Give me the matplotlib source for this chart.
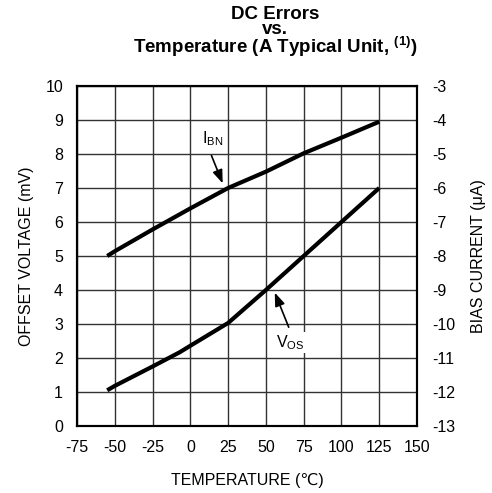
import matplotlib
matplotlib.use("Agg")
import matplotlib.pyplot as plt

plt.rcParams['font.family'] = ['Liberation Sans', 'DejaVu Sans']
plt.rcParams['mathtext.fontset'] = 'custom'
plt.rcParams['mathtext.rm'] = 'Liberation Sans'
plt.rcParams['mathtext.bf'] = 'Liberation Sans:bold'
plt.rcParams['mathtext.it'] = 'Liberation Sans:italic'
plt.rcParams['axes.unicode_minus'] = False

# Data
temp = [-55, -50, -25, -7, 0, 25, 50, 75, 100, 125]
vos_mv = [1.05, 1.18, 1.75, 2.17, 2.36, 3.03, 4.0, 5.0, 6.0, 7.0]
temp_ibn = [-55, -50, -25, 0, 25, 50, 75, 100, 125]
ibn_ua = [-8.0, -7.86, -7.22, -6.6, -6.0, -5.52, -4.98, -4.52, -4.05]

x_ticks = [-75, -50, -25, 0, 25, 50, 75, 100, 125, 150]
left_ticks = list(range(0, 11))
right_ticks = list(range(-13, -2))

fig = plt.figure(figsize=(4.92, 4.93), dpi=100)
ax = fig.add_axes([77/492, 1-426/493, 340/492, 340/493])
ax2 = ax.twinx()

ax.set_xlim(-75, 150)
ax.set_ylim(0, 10)
ax2.set_ylim(-13, -3)
ax.set_xticks(x_ticks)
ax.set_yticks(left_ticks)
ax2.set_yticks(right_ticks)
ax.grid(True, color='#333333', linewidth=1.0)
ax.tick_params(length=0, labelsize=11.5, pad=10)
ax2.tick_params(length=0, labelsize=11.5, pad=11)
for sp in ax.spines.values():
    sp.set_linewidth(1.5)
for sp in ax2.spines.values():
    sp.set_linewidth(1.5)

ax.plot(temp, vos_mv, color='black', linewidth=3, solid_capstyle='butt')
ax2.plot(temp_ibn, ibn_ua, color='black', linewidth=3, solid_capstyle='butt')

ax.set_xlabel('TEMPERATURE (\u2103)', fontsize=11.5, labelpad=13)
ax.set_ylabel('OFFSET VOLTAGE (mV)', fontsize=11.5, labelpad=8)
ax2.set_ylabel('BIAS CURRENT (\u03bcA)', fontsize=11.5, labelpad=11)

ax.annotate('', xy=(22.1, 7.06), xytext=(13.3, 8.03),
            arrowprops=dict(arrowstyle='-|>,head_length=0.8,head_width=0.3', color='black', lw=1.2))
ax.text(14.6, 8.45, r'I$_{\mathregular{BN}}$', fontsize=11.5, ha='center', va='center')
ax.annotate('', xy=(55.2, 4.0), xytext=(65.8, 2.83),
            arrowprops=dict(arrowstyle='-|>,head_length=0.8,head_width=0.3', color='black', lw=1.2))
ax.text(66.3, 2.45, r'V$_{\mathregular{OS}}$', fontsize=11.5, ha='center', va='center',
        bbox=dict(facecolor='white', edgecolor='none', pad=1))

title = 'DC Errors\nvs.\n' + r'Temperature (A Typical Unit, $^{\mathbf{(1)}}$)'
fig.text(275/492, 1-6/493, title, fontsize=13.5, fontweight='bold', ha='center', va='top',
         multialignment='center', linespacing=0.85)

fig.savefig('out.png', dpi=100)
